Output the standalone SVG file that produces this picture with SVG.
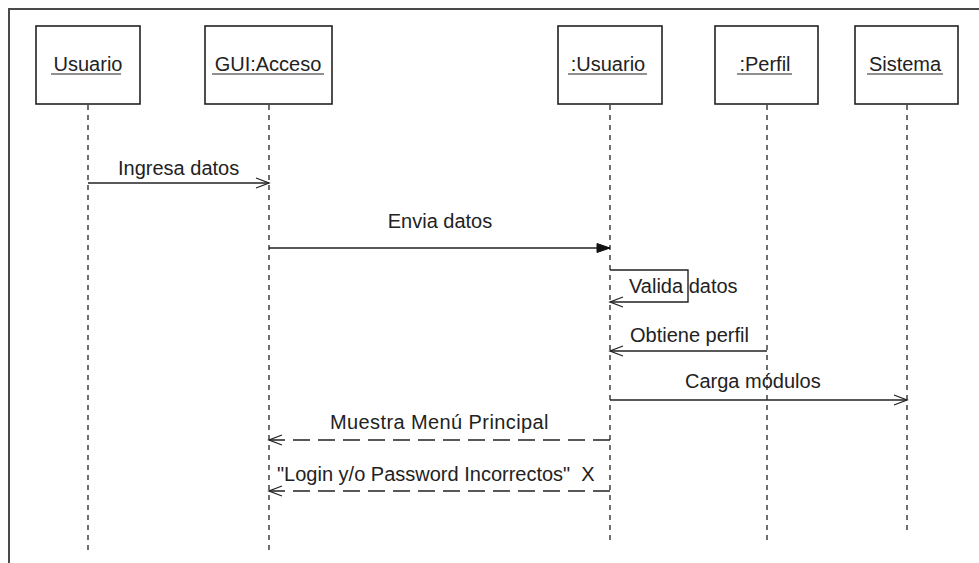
<svg xmlns="http://www.w3.org/2000/svg" width="979" height="563" viewBox="0 0 979 563">
  <style>
    .frame { fill: none; stroke: #4a4a4a; stroke-width: 2; }
    .box { fill: #ffffff; stroke: #222222; stroke-width: 1.6; }
    .life { stroke: #222222; stroke-width: 1.3; stroke-dasharray: 5 5; fill: none; }
    .msg { stroke: #222222; stroke-width: 1.4; fill: none; }
    .ret { stroke: #222222; stroke-width: 1.4; fill: none; stroke-dasharray: 17 8; }
    .lbl { font-family: "Liberation Sans", Arial, sans-serif; font-size: 20px; fill: #222222; }
    .wide { letter-spacing: 0.4px; }
    .ul { stroke: #222222; stroke-width: 1.2; }
  </style>
  <defs>
    <marker id="open" markerWidth="16" markerHeight="12" refX="14" refY="6" orient="auto" markerUnits="userSpaceOnUse">
      <path d="M1,1 L14,6 L1,11" fill="none" stroke="#222222" stroke-width="1.3"/>
    </marker>
    <marker id="solid" markerWidth="16" markerHeight="12" refX="14" refY="6" orient="auto" markerUnits="userSpaceOnUse">
      <path d="M1,1.5 L14,6 L1,10.5 Z" fill="#111111" stroke="#111111" stroke-width="1"/>
    </marker>
  </defs>

  <rect width="979" height="563" fill="#ffffff"/>
  <path class="frame" d="M9,563 L9,9 L979,9"/>

  <g id="usuario">
    <rect class="box" x="36" y="26" width="104" height="78"/>
    <text class="lbl" x="88" y="71" text-anchor="middle">Usuario</text>
    <line class="ul" x1="51" y1="74" x2="121" y2="74"/>
    <line class="life" x1="88" y1="105" x2="88" y2="555"/>
  </g>

  <g id="gui-acceso">
    <rect class="box" x="205" y="26" width="127" height="78"/>
    <text class="lbl" x="268" y="71" text-anchor="middle">GUI:Acceso</text>
    <line class="ul" x1="212" y1="74" x2="324" y2="74"/>
    <line class="life" x1="269" y1="105" x2="269" y2="552"/>
  </g>

  <g id="usuario-obj">
    <rect class="box" x="558" y="26" width="104" height="78"/>
    <text class="lbl" x="608" y="71" text-anchor="middle">:Usuario</text>
    <line class="ul" x1="568" y1="74" x2="647" y2="74"/>
    <line class="life" x1="610" y1="105" x2="610" y2="545"/>
  </g>

  <g id="perfil">
    <rect class="box" x="715" y="26" width="103" height="78"/>
    <text class="lbl" x="765" y="71" text-anchor="middle">:Perfil</text>
    <line class="ul" x1="737" y1="74" x2="792" y2="74"/>
    <line class="life" x1="767" y1="105" x2="767" y2="542"/>
  </g>

  <g id="sistema">
    <rect class="box" x="855" y="26" width="103" height="78"/>
    <text class="lbl" x="905" y="71" text-anchor="middle">Sistema</text>
    <line class="ul" x1="867" y1="74" x2="943" y2="74"/>
    <line class="life" x1="907" y1="105" x2="907" y2="535"/>
  </g>

  <g id="connectors">
    <line class="msg" x1="88" y1="183" x2="269" y2="183" marker-end="url(#open)"/>
    <text class="lbl" x="118" y="175">Ingresa datos</text>

    <line class="msg" x1="269" y1="248" x2="610" y2="248" marker-end="url(#solid)"/>
    <text class="lbl" x="440" y="228" text-anchor="middle">Envia datos</text>

    <path class="msg" d="M610,270 L688,270 L688,302 L610,302" marker-end="url(#open)"/>
    <text class="lbl" x="629" y="293">Valida datos</text>

    <line class="msg" x1="767" y1="351" x2="610" y2="351" marker-end="url(#open)"/>
    <text class="lbl" x="630" y="342">Obtiene perfil</text>

    <line class="msg" x1="610" y1="400" x2="907" y2="400" marker-end="url(#open)"/>
    <text class="lbl" x="685" y="388">Carga módulos</text>

    <line class="ret" x1="610" y1="440" x2="269" y2="440" marker-end="url(#open)"/>
    <text class="lbl wide" x="330" y="429">Muestra Menú Principal</text>

    <line class="ret" x1="610" y1="491" x2="269" y2="491" marker-end="url(#open)"/>
    <text class="lbl" x="277" y="481" xml:space="preserve">"Login y/o Password Incorrectos"  X</text>
  </g>
</svg>
